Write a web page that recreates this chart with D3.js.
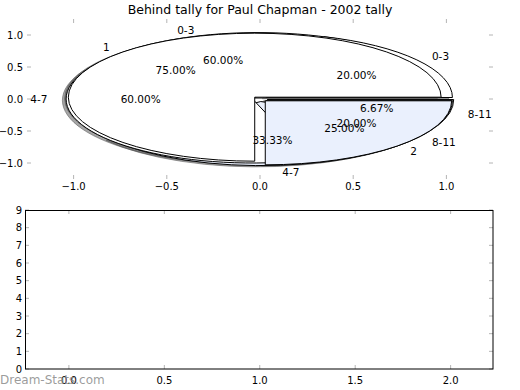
<!DOCTYPE html>
<html><head><meta charset="utf-8">
<script src="https://cdn.jsdelivr.net/npm/d3@7"></script>
<style>
html,body{margin:0;padding:0;background:#fff;}
text{font-family:"DejaVu Sans",sans-serif;}
</style></head>
<body>
<svg id="c" width="520" height="390"></svg>
<script>
// ---- data ----
const title = "Behind tally for Paul Chapman - 2002 tally";
const labelsA = ["0-3", "4-7", "8-11"];
const valuesA = [9, 5, 1];
const colorsA = ["#ffffff", "#eaf0fd", "#ffffff"];
const labelsC = ["0-3", "4-7", "8-11"];
const valuesC = [1, 3, 1];
const colorsC = ["#ffffff", "#ffffff", "#eaf0fd"];
const labelsB = ["1", "2"];
const valuesB = [3, 1];
const colorsB = ["#ffffff", "#eaf0fd"];
const explode = 0.04;
const topTicks = [-1.0, -0.5, 0.0, 0.5, 1.0];
const botXTicks = [0.0, 0.5, 1.0, 1.5, 2.0];
const botYTicks = [0,1,2,3,4,5,6,7,8,9];
const watermark = "Dream-Stats.com";

const svg = d3.select("#c");
const fmtTick = d3.format(".1f");
const minusFmt = v => fmtTick(v).replace("-", "\u2212");
const tickCol = "#b4b4b4";

// ---- top axes ----
const x = d3.scaleLinear().domain([-1.25, 1.25]).range([27, 493]);
const y = d3.scaleLinear().domain([-1.25, 1.25]).range([179, 19]);
const sx = x(1) - x(0), sy = y(0) - y(1);

svg.append("text").attr("x", 260).attr("y", 9).attr("text-anchor", "middle")
  .attr("dominant-baseline", "central").attr("font-size", 12.5).text(title);

const pieGen = d3.pie().sort(null).startAngle(Math.PI / 2).endAngle(Math.PI / 2 - 2 * Math.PI);
const arcGen = d3.arc().innerRadius(0).outerRadius(1);

const pies = [
  {labels: labelsA, values: valuesA, colors: colorsA},
  {labels: labelsC, values: valuesC, colors: colorsC},
  {labels: labelsB, values: valuesB, colors: colorsB}
];
pies.forEach(p => {
  const total = d3.sum(p.values);
  p.arcs = pieGen(p.values).map((a, i) => {
    const m = (a.startAngle + a.endAngle) / 2;
    const dx = Math.sin(m), dy = Math.cos(m);
    return {a, i, dx, dy, cx: explode * dx, cy: explode * dy, pct: p.values[i] / total * 100};
  });
});

const gShadow = svg.append("g"), gWedge = svg.append("g"), gText = svg.append("g");
pies.forEach(p => {
  p.arcs.forEach(w => {
    gShadow.append("path")
      .attr("d", arcGen({startAngle: Math.min(w.a.startAngle, w.a.endAngle), endAngle: Math.max(w.a.startAngle, w.a.endAngle)}))
      .attr("transform", `translate(${x(w.cx - 0.02)},${y(w.cy - 0.02)}) scale(${sx},${sy})`)
      .attr("fill", "#4d4d4d").attr("fill-opacity", 0.5)
      .attr("stroke", "#4d4d4d").attr("stroke-opacity", 0.5)
      .attr("stroke-width", 1).attr("vector-effect", "non-scaling-stroke");
  });
});
pies.forEach(p => {
  p.arcs.forEach(w => {
    gWedge.append("path")
      .attr("d", arcGen({startAngle: Math.min(w.a.startAngle, w.a.endAngle), endAngle: Math.max(w.a.startAngle, w.a.endAngle)}))
      .attr("transform", `translate(${x(w.cx)},${y(w.cy)}) scale(${sx},${sy})`)
      .attr("fill", p.colors[w.i]).attr("stroke", "#000")
      .attr("stroke-width", 1).attr("vector-effect", "non-scaling-stroke");
  });
});
pies.forEach(p => {
  p.arcs.forEach(w => {
    const lx = w.cx + 1.1 * w.dx, ly = w.cy + 1.1 * w.dy;
    gText.append("text").attr("x", x(lx)).attr("y", y(ly))
      .attr("text-anchor", lx > 0 ? "start" : "end").attr("dominant-baseline", "central")
      .attr("font-size", 10.5).text(p.labels[w.i]);
    const px = w.cx + 0.6 * w.dx, py = w.cy + 0.6 * w.dy;
    gText.append("text").attr("x", x(px)).attr("y", y(py))
      .attr("text-anchor", "middle").attr("dominant-baseline", "central")
      .attr("font-size", 10.5).text(d3.format(".2f")(w.pct) + "%");
  });
});

// top axes ticks (no frame)
const gt = svg.append("g");
topTicks.forEach(t => {
  gt.append("line").attr("x1", x(t)).attr("x2", x(t)).attr("y1", 179).attr("y2", 175).attr("stroke", tickCol);
  gt.append("line").attr("x1", x(t)).attr("x2", x(t)).attr("y1", 19).attr("y2", 23).attr("stroke", tickCol);
  gt.append("line").attr("y1", y(t)).attr("y2", y(t)).attr("x1", 27).attr("x2", 31).attr("stroke", tickCol);
  gt.append("line").attr("y1", y(t)).attr("y2", y(t)).attr("x1", 493).attr("x2", 489).attr("stroke", tickCol);
  gt.append("text").attr("x", x(t)).attr("y", 186).attr("text-anchor", "middle")
    .attr("dominant-baseline", "central").attr("font-size", 10).text(minusFmt(t));
  gt.append("text").attr("x", 23).attr("y", y(t)).attr("text-anchor", "end")
    .attr("dominant-baseline", "central").attr("font-size", 10).text(minusFmt(t));
});

// ---- bottom axes ----
const x2 = d3.scaleLinear().domain([-0.23, 2.222]).range([25, 493]);
const y2 = d3.scaleLinear().domain([0, 9]).range([369, 210]);
const gb = svg.append("g");
botXTicks.forEach(t => {
  gb.append("line").attr("x1", x2(t)).attr("x2", x2(t)).attr("y1", 369).attr("y2", 365).attr("stroke", tickCol);
  gb.append("line").attr("x1", x2(t)).attr("x2", x2(t)).attr("y1", 210).attr("y2", 214).attr("stroke", tickCol);
});
botYTicks.forEach(t => {
  gb.append("line").attr("y1", y2(t)).attr("y2", y2(t)).attr("x1", 25).attr("x2", 29).attr("stroke", tickCol);
  gb.append("line").attr("y1", y2(t)).attr("y2", y2(t)).attr("x1", 493).attr("x2", 489).attr("stroke", tickCol);
});
gb.append("rect").attr("x", 25.5).attr("y", 210.5).attr("width", 467.5).attr("height", 158.5)
  .attr("fill", "none").attr("stroke", "#000").attr("stroke-width", 1);
svg.append("text").attr("x", 0).attr("y", 380).attr("dominant-baseline", "central")
  .attr("font-size", 12).attr("fill", "#8a8a8a").attr("fill-opacity", 0.85).text(watermark);
botXTicks.forEach(t => {
  gb.append("text").attr("x", x2(t)).attr("y", 380).attr("text-anchor", "middle")
    .attr("dominant-baseline", "central").attr("font-size", 10).text(fmtTick(t));
});
botYTicks.forEach(t => {
  gb.append("text").attr("x", 22).attr("y", y2(t)).attr("text-anchor", "end")
    .attr("dominant-baseline", "central").attr("font-size", 10).text(t);
});
</script>
</body></html>
